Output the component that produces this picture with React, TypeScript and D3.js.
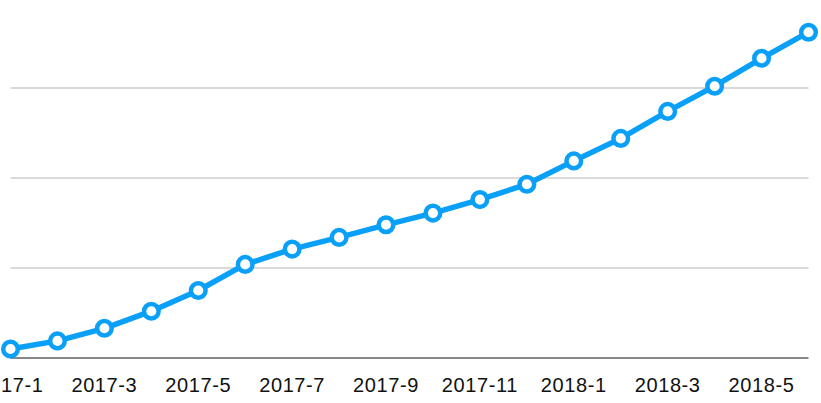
import { useEffect, useRef } from "react";
import * as d3 from "d3";

// months shown, one point per month
const months = [
  "2017-1", "2017-2", "2017-3", "2017-4", "2017-5", "2017-6",
  "2017-7", "2017-8", "2017-9", "2017-10", "2017-11", "2017-12",
  "2018-1", "2018-2", "2018-3", "2018-4", "2018-5", "2018-6",
];
const values = [10, 19, 33, 52, 75, 104, 121, 134, 148, 161, 176, 193, 219, 244, 274, 302, 333, 362];
const gridTicks = [100, 200, 300];
const labelMonths = months.filter((_, i) => i % 2 === 0);

export default function App() {
  const svgRef = useRef<SVGSVGElement | null>(null);

  useEffect(() => {
    document.body.style.margin = "0";
    if (!svgRef.current) return;

    const width = 821;
    const height = 403;
    const margin = { top: -2, right: 12.5, bottom: 45, left: 10.5 };
    const blue = "#0aa0f8";

    const svg = d3.select(svgRef.current);
    svg.selectAll("*").remove();
    svg.attr("width", width).attr("height", height).style("display", "block");

    const x = d3
      .scalePoint<string>()
      .domain(months)
      .range([margin.left, width - margin.right]);

    const y = d3
      .scaleLinear()
      .domain([0, 400])
      .range([height - margin.bottom, margin.top]);

    // Gridlines
    svg
      .append("g")
      .selectAll("line")
      .data(gridTicks)
      .join("line")
      .attr("x1", margin.left)
      .attr("x2", width - margin.right)
      .attr("y1", d => y(d))
      .attr("y2", d => y(d))
      .attr("stroke", "#b4b4b4")
      .attr("stroke-width", 1);

    // Baseline
    svg
      .append("line")
      .attr("x1", margin.left)
      .attr("x2", width - margin.right)
      .attr("y1", y(0))
      .attr("y2", y(0))
      .attr("stroke", "#111")
      .attr("stroke-width", 1);

    // X labels
    svg
      .append("g")
      .selectAll("text")
      .data(labelMonths)
      .join("text")
      .attr("x", d => x(d) as number)
      .attr("y", 391.5)
      .attr("text-anchor", "middle")
      .style("font-family", "'Liberation Sans', Arial, Helvetica, sans-serif")
      .style("font-size", "20px")
      .style("letter-spacing", "0.6px")
      .style("fill", "#111")
      .text(d => d);

    const data = months.map((m, i) => ({ m, v: values[i] }));

    const line = d3
      .line<{ m: string; v: number }>()
      .x(d => x(d.m) as number)
      .y(d => y(d.v));

    svg
      .append("path")
      .datum(data)
      .attr("fill", "none")
      .attr("stroke", blue)
      .attr("stroke-width", 5.5)
      .attr("stroke-linejoin", "round")
      .attr("d", line);

    svg
      .append("g")
      .selectAll("circle")
      .data(data)
      .join("circle")
      .attr("cx", d => x(d.m) as number)
      .attr("cy", d => y(d.v))
      .attr("r", 7.3)
      .attr("fill", "#fff")
      .attr("stroke", blue)
      .attr("stroke-width", 4.5);
  }, []);

  return <svg ref={svgRef}></svg>;
}
